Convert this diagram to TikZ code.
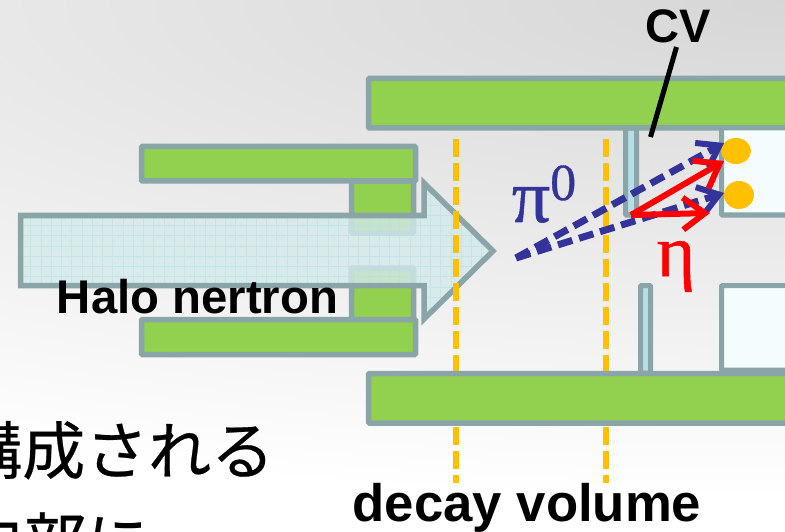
\documentclass[tikz,border=0pt]{standalone}
\usepackage{fontspec}
\setmainfont{Liberation Sans}
\newfontfamily\cjkfont[FakeBold=0.4]{Noto Sans CJK JP}
\newfontfamily\symbfont[FakeBold=0.7]{Liberation Serif}
\usetikzlibrary{arrows.meta}
\definecolor{barGreen}{HTML}{92D050}
\definecolor{edgeGray}{HTML}{8AA5A8}
\definecolor{plateBlue}{HTML}{B7DEE8}
\definecolor{beamBlue}{HTML}{D3EAEA}
\definecolor{gammaBlue}{HTML}{333399}
\definecolor{decayOrange}{HTML}{FFC000}
\tikzset{
  bar/.style={draw=edgeGray,line width=5.5pt,fill=barGreen,rounded corners=1pt},
  plate/.style={draw=edgeGray,line width=5pt,fill=plateBlue,rounded corners=1pt},
  window/.style={draw=edgeGray,line width=5pt,fill=white!96!cyan,rounded corners=1pt},
  decay line/.style={decayOrange,line width=6pt,dash pattern=on 18pt off 6pt},
  gamma line/.style={gammaBlue,line width=7pt,dash pattern=on 15pt off 7pt,-{Straight Barb[length=20pt,width=28pt,line width=6pt]}},
  eta line/.style={red,line width=6pt,-{Straight Barb[length=22pt,width=32pt,line width=6pt]}},
  bold label/.style={font=\fontsize{#1}{50}\selectfont\bfseries,inner sep=0pt,anchor=base},
  jp label/.style={font=\fontsize{63}{64}\cjkfont,inner sep=0pt,anchor=base west},
}
\begin{document}
\begin{tikzpicture}[x=1pt,y=-1pt]
\clip (0,0) rectangle (785,532);
\useasboundingbox (0,0) rectangle (785,532);
\fill[white] (-1,-1) rectangle (786,533);
\shade[inner color=black!16,outer color=white] (785,0) ellipse (1800 and 500);

\coordinate (pi0) at (516,258);
\coordinate (eta0) at (631,215);
\coordinate (gammaUp) at (724,143);
\coordinate (gammaDown) at (724,193);
\coordinate (etaUp) at (724,161);
\coordinate (etaDown) at (710,213);
\coordinate (cvTop) at (676.5,47);
\coordinate (cvEnd) at (650.5,137);

% beam line collimators
\draw[bar] (351.5,181) rectangle (413.5,233);
\draw[bar] (351.5,268) rectangle (413.5,320);
\draw[bar] (141.5,146.5) rectangle (415.5,181);
\draw[bar] (141.5,319.5) rectangle (415.5,354.5);

% neutron beam
\begin{scope}
\clip (20.5,215.5) -- (424,215.5) -- (424,183) -- (493,251) -- (424,319) -- (424,285.5) -- (20.5,285.5) -- cycle;
\fill[beamBlue,opacity=.8] (0,170) rectangle (500,330);
\draw[plateBlue,opacity=.5,line width=.6pt,step=10.25pt] (0,170) grid (500,330);
\end{scope}
\draw[edgeGray,line width=5.5pt,miter limit=10] (20.5,215.5) -- (424,215.5) -- (424,183) -- (493,251) -- (424,319) -- (424,285.5) -- (20.5,285.5) -- cycle;

\draw[decay line] (456,139) -- (456,483);
\draw[decay line] (606,139) -- (606,483);

% detector
\draw[plate] (625.5,128) rectangle (636.5,215);
\draw[plate] (640.5,285.5) rectangle (650.5,373);
\draw[bar] (368.5,78.5) rectangle (800,128);
\draw[bar] (368.5,373.5) rectangle (800,423);
\draw[window] (721.5,128) rectangle (800,215);
\draw[window] (721.5,285.5) rectangle (800,370);
\fill[decayOrange] (736,151) ellipse (15 and 13);
\fill[decayOrange] (739,195) ellipse (15 and 14);

\draw[line width=5pt] (cvTop) -- (cvEnd);

\draw[gamma line] (pi0) -- (gammaUp);
\draw[gamma line] (pi0) -- (gammaDown);
\draw[eta line] (eta0) -- (etaUp);
\draw[eta line] (eta0) -- (etaDown);

\node[bold label=47] (cvLabel) at (678,43) {CV};
\node[bold label=47.3] (haloLabel) at (197.5,313) {Halo nertron};
\node[bold label=52.7] (decayLabel) at (527,521.5) {decay volume};
\node[gammaBlue,inner sep=0pt,anchor=base,font=\fontsize{76}{78}\symbfont] (piLabel) at (544,222) {π\raisebox{22pt}{\fontsize{52}{52}\selectfont 0}};
\node[red,inner sep=0pt,anchor=base,font=\fontsize{74}{76}\symbfont] (etaLabel) at (676,276) {η};
\node[jp label] (jpTop) at (-41,474) {構成される};
\node[jp label] (jpBottom) at (-40,565) {内部に};
\end{tikzpicture}
\end{document}
